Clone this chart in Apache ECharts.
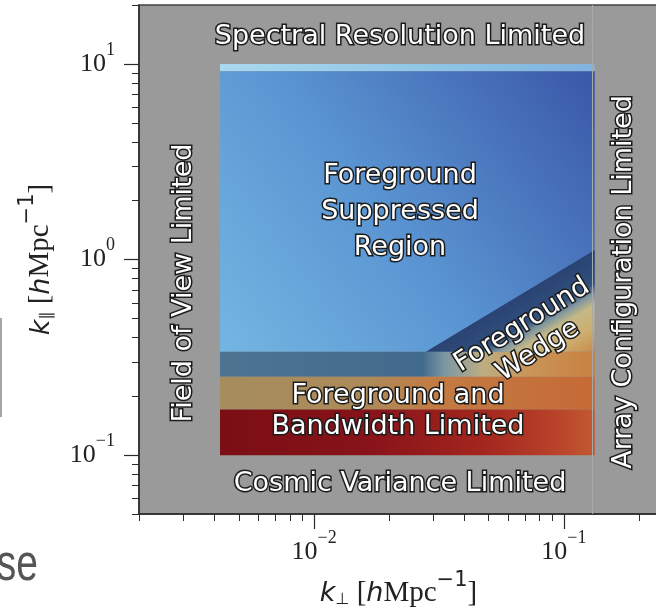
<!DOCTYPE html>
<html>
<head>
<meta charset="utf-8">
<script src="https://cdn.jsdelivr.net/npm/echarts@6/dist/echarts.min.js"></script>
<style>
  html, body { margin: 0; padding: 0; background: #fff; }
  #chart { width: 656px; height: 609px; }
</style>
</head>
<body>
<div id="chart"></div>
<script>
// axis ranges and tick values
const kPerpRange = [0.00199, 0.3];
const kParRange = [0.05, 20.05];
const kPerpTicks = [0.01, 0.1];
const kParTicks = [0.1, 1, 10];

// measured region, split into horizontal bands of k_par
const surveyKPerp = [0.0042, 0.133];
const bandNames = ["top row", "Foreground Suppressed Region", "horizon", "Foreground", "Bandwidth Limited"];
const bandKParLow = [9.2, 0.338, 0.252, 0.171, 0.1];
const bandKParHigh = [10, 9.2, 0.338, 0.252, 0.171];

// foreground wedge corners
const wedgeKPerp = [0.028, 0.133, 0.133];
const wedgeKPar = [0.338, 1.12, 0.338];

const grad = (x, y, x2, y2, stops) => ({
  type: "linear", x: x, y: y, x2: x2, y2: y2,
  colorStops: stops.map(s => ({ offset: s[0], color: s[1] }))
});

const bandFills = [
  grad(0, 0, 1, 0, [[0, "#a9d9ef"], [0.5, "#93c7e7"], [1, "#80b3df"]]),
  grad(0, 1, 1, 0, [[0, "#74b6e2"], [0.45, "#5a95d2"], [1, "#3a57a8"]]),
  grad(0, 0, 1, 0, [[0, "#4e7492"], [0.54, "#426a8c"], [0.6, "#7d97a4"], [0.7, "#bcae82"], [0.82, "#c9965a"], [1, "#c8803f"]]),
  grad(0, 0, 1, 0, [[0, "#a68d5e"], [0.4, "#ad8a58"], [0.56, "#c27c44"], [1, "#c66a36"]]),
  grad(0, 0, 1, 0, [[0, "#7a0e14"], [0.4, "#88131a"], [0.7, "#a3261e"], [0.9, "#b9432a"], [1, "#c25a32"]])
];
const wedgeFill = grad(0.734, 0.267, 1, 1, [[0, "#2a4373"], [0.32, "#30507c"], [0.42, "#7f96a0"], [0.54, "#c5b985"], [0.75, "#cdae70"], [1, "#c98a48"]]);

const powLabel = v => {
  const e = Math.round(Math.log10(v));
  return "{b|10}{s|" + (e < 0 ? "\u2212" + (-e) : e) + "}";
};
const tickRich = {
  b: { fontFamily: "Liberation Serif", fontSize: 26, color: "#222", lineHeight: 46, verticalAlign: "middle" },
  s: { fontFamily: "Liberation Serif", fontSize: 18, color: "#222", lineHeight: 18, verticalAlign: "top" }
};
const nameRich = {
  k: { fontFamily: "DejaVu Sans", fontStyle: "italic", fontSize: 27, color: "#222", lineHeight: 38, verticalAlign: "bottom" },
  sub: { fontFamily: "DejaVu Sans", fontSize: 16, color: "#222", lineHeight: 16, verticalAlign: "bottom" },
  br: { fontFamily: "Liberation Serif", fontSize: 29, color: "#222", lineHeight: 38, verticalAlign: "bottom" },
  h: { fontFamily: "DejaVu Sans", fontStyle: "italic", fontSize: 27, color: "#222", lineHeight: 38, verticalAlign: "bottom" },
  r: { fontFamily: "Liberation Serif", fontSize: 29, color: "#222", lineHeight: 38, verticalAlign: "bottom" },
  sup: { fontFamily: "DejaVu Sans", fontSize: 21, color: "#222", lineHeight: 21, verticalAlign: "top" }
};
const unitName = sub => "{k|k}{sub|" + sub + "}{br| [}{h|h}{r|Mpc}{sup|\u22121}{br|]}";

const outlined = (text, x, y, rotation, lineHeight) => ({
  type: "text", x: x, y: y, rotation: rotation || 0, z: 100,
  style: {
    text: text, x: 0, y: 0, align: "center", verticalAlign: "middle",
    fill: "#fff", stroke: "#1c1c1c", lineWidth: 3,
    fontFamily: "DejaVu Sans", fontSize: 27, lineHeight: lineHeight || 36
  }
});

const axisColor = "#2a2a2a";
const chart = echarts.init(document.getElementById("chart"));

chart.setOption({
  animation: false,
  grid: {
    left: 139, top: 5, right: -27, bottom: 95, outerBoundsMode: "none", containLabel: false,
    show: true, backgroundColor: "#9a9a9a", borderColor: "#444", borderWidth: 1.5
  },
  xAxis: {
    type: "log", logBase: 10, min: kPerpRange[0], max: kPerpRange[1],
    axisLine: { show: true, lineStyle: { color: axisColor, width: 1.5 } },
    axisTick: { show: true, customValues: kPerpTicks, length: 15, lineStyle: { color: axisColor, width: 1.2 } },
    minorTick: { show: true, splitNumber: 9, length: 7, lineStyle: { color: axisColor, width: 1 } },
    axisLabel: { customValues: kPerpTicks, formatter: powLabel, rich: tickRich, margin: 15 },
    splitLine: { show: false },
    minorSplitLine: { show: false },
    name: unitName("\u22a5"), nameLocation: "middle", nameGap: 53,
    nameTextStyle: { rich: nameRich, padding: [0, 25, 0, 0] }
  },
  yAxis: {
    type: "log", logBase: 10, min: kParRange[0], max: kParRange[1],
    axisLine: { show: true, lineStyle: { color: axisColor, width: 1.5 } },
    axisTick: { show: true, customValues: kParTicks, length: 15, lineStyle: { color: axisColor, width: 1.2 } },
    minorTick: { show: true, splitNumber: 9, length: 7, lineStyle: { color: axisColor, width: 1 } },
    axisLabel: { customValues: kParTicks, formatter: powLabel, rich: tickRich, margin: 24 },
    splitLine: { show: false },
    minorSplitLine: { show: false },
    name: unitName("\u2225"), nameLocation: "middle", nameGap: 84, nameRotate: 90,
    nameTextStyle: { rich: nameRich }
  },
  series: [
    {
      type: "custom", name: "bands", silent: true,
      data: bandNames.map((n, i) => ({ name: n, value: [surveyKPerp[0], surveyKPerp[1], bandKParLow[i], bandKParHigh[i]] })),
      encode: { x: [0, 1], y: [2, 3] },
      renderItem: (params, api) => {
        const p0 = api.coord([api.value(0), api.value(3)]);
        const p1 = api.coord([api.value(1), api.value(2)]);
        return {
          type: "rect",
          shape: { x: p0[0], y: p0[1], width: p1[0] - p0[0], height: p1[1] - p0[1] },
          style: { fill: bandFills[params.dataIndex] }
        };
      },
      markLine: {
        silent: true, symbol: "none", label: { show: false },
        lineStyle: { color: "#a8a8a8", width: 1, type: "solid" },
        data: [{ xAxis: surveyKPerp[0] }, { xAxis: surveyKPerp[1] }]
      }
    },
    {
      type: "custom", name: "Foreground Wedge", silent: true,
      data: [[wedgeKPerp[0], wedgeKPar[0]]],
      renderItem: (params, api) => ({
        type: "polygon",
        shape: { points: wedgeKPerp.map((x, i) => api.coord([x, wedgeKPar[i]])) },
        style: { fill: wedgeFill }
      })
    }
  ],
  graphic: [
    outlined("Spectral Resolution Limited", 400, 37),
    outlined("Foreground\nSuppressed\nRegion", 400, 212),
    outlined("Field of View Limited", 184, 283, Math.PI / 2),
    outlined("Array Configuration Limited", 624, 282, Math.PI / 2),
    outlined("Foreground and\nBandwidth Limited", 398, 411, 0, 31),
    outlined("Foreground\nWedge", 530, 338, 32 * Math.PI / 180, 30),
    outlined("Cosmic Variance Limited", 400, 484),
    {
      type: "text", x: 38, y: 566, scaleX: 0.75,
      style: { text: "se", x: 0, y: 0, align: "right", verticalAlign: "middle", fill: "#555", fontFamily: "Liberation Sans", fontSize: 52 }
    },
    { type: "line", shape: { x1: 1, y1: 318, x2: 1, y2: 417 }, style: { stroke: "#888", lineWidth: 1.5 } }
  ]
});

window.onresize = function () {
  chart.resize();
};
</script>
</body>
</html>
